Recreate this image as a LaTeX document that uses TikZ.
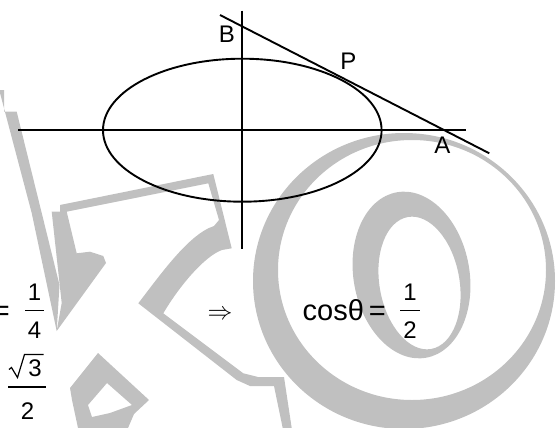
\documentclass[tikz,border=0pt]{standalone}
\usepackage{fontspec}
\setmainfont{Liberation Sans}
\definecolor{wmgray}{RGB}{192,192,192}
\begin{document}
\begin{tikzpicture}[x=1pt,y=-1pt,
  wm/.style={fill=wmgray},
  ax/.style={line width=1.9pt, black},
  lbl/.style={inner sep=0pt, font=\fontsize{24}{28}\selectfont},
  num/.style={inner sep=0pt, font=\fontsize{24}{28}\selectfont, anchor=base},
  big/.style={inner sep=0pt, font=\fontsize{29}{34}\selectfont},
  fbar/.style={line width=1.3pt}]
\useasboundingbox (0,0) rectangle (557,428);
% ---------------- watermark ----------------
\begin{scope}
\clip (0,0) rectangle (557,428);
% big O ring
\fill[wm, even odd rule] (404,281) ellipse [x radius=151pt, y radius=148pt]
  (412,270) ellipse [x radius=134pt, y radius=130pt];
% inner O
\fill[wm, even odd rule] (411.5,275) ellipse [x radius=58pt, y radius=84pt, rotate=10]
  (419.5,283) ellipse [x radius=40pt, y radius=67pt, rotate=10];
% K stem
\fill[wm] (0,90) -- (4,90) -- (4,111.7) -- (16.7,111.7) -- (59.5,285) -- (56.7,331)
  -- (31.7,213) -- (0,93) -- cycle;
% K outline body
\fill[wm] (51.7,211.7) -- (60,211.7) -- (60,205) -- (213.3,174) -- (231.7,248.3)
  -- (222,250) .. controls (205,256) and (180,285) .. (163.3,313.3)
  -- (243.3,373.3) -- (258,377)
  -- (284,377) -- (291.7,428) -- (282.7,428) -- (274,386) -- (250,386) -- (236.7,380)
  -- (138.3,303.3) .. controls (160,275) and (185,240) .. (208.3,228.3)
  -- (214,226) -- (219,220)
  -- (208.3,183.3) -- (66.7,211.7) -- (76.7,253.3) -- (90,251.7) -- (103.3,256)
  -- (106,263) -- (56.7,331) -- (61.7,303) -- cycle;
% K foot
\fill[wm, even odd rule] (70,388) -- (98,353) -- (149,400) -- (134,414) -- (128,428)
  -- (78,428) -- (72,400) -- cycle
  (88,405) -- (107,383) -- (132,405) -- (110,413) -- (92,417) -- cycle;
\end{scope}
% ---------------- figure ----------------
\coordinate (O) at (242.3,130.2);
\coordinate (Vt) at (242.3,10.7);
\coordinate (Vb) at (242.3,249);
\coordinate (Hl) at (18.3,130.2);
\coordinate (Hr) at (466,130.2);
\coordinate (T1) at (220,15);
\coordinate (T2) at (489.3,153.3);
\draw[ax] (Hl) -- (Hr);
\draw[ax] (Vt) -- (Vb);
\draw[ax] (O) ellipse [x radius=139.3pt, y radius=71.5pt];
\draw[ax] (T1) -- (T2);
\node[lbl] (B) at (227,34.7) {B};
\node[lbl] (P) at (348.5,61.5) {P};
\node[lbl] (A) at (442.3,145.3) {A};
% ---------------- equations ----------------
\node[big, anchor=base] (eq1) at (1.3,320.7) {=};
\node[num] (n1) at (34.5,300.3) {1};
\draw[fbar] (25,310.3) -- (44,310.3);
\node[num] (d1) at (34.5,338) {4};
\node[inner sep=0pt, anchor=base, font=\fontsize{24}{28}\selectfont] (imp) at (220,319.5) {$\Rightarrow$};
\node[big, anchor=base west] (cos) at (302.5,320.7) {cosθ};
\node[big, anchor=base] (eq2) at (377.3,320.7) {=};
\node[num] (n2) at (410,300.3) {1};
\draw[fbar] (400.3,310.3) -- (419.7,310.3);
\node[num] (d2) at (410,338) {2};
% sqrt3 / 2
\draw[line width=1.2pt, line join=miter] (9,369.5) -- (11.5,367.5) -- (17.5,377.5) -- (24.5,354.5) -- (43.5,354.5);
\node[num] (n3) at (35,376.7) {3};
\draw[fbar] (8.3,387) -- (46,387);
\node[num] (d3) at (27.5,419.7) {2};
\end{tikzpicture}
\end{document}
